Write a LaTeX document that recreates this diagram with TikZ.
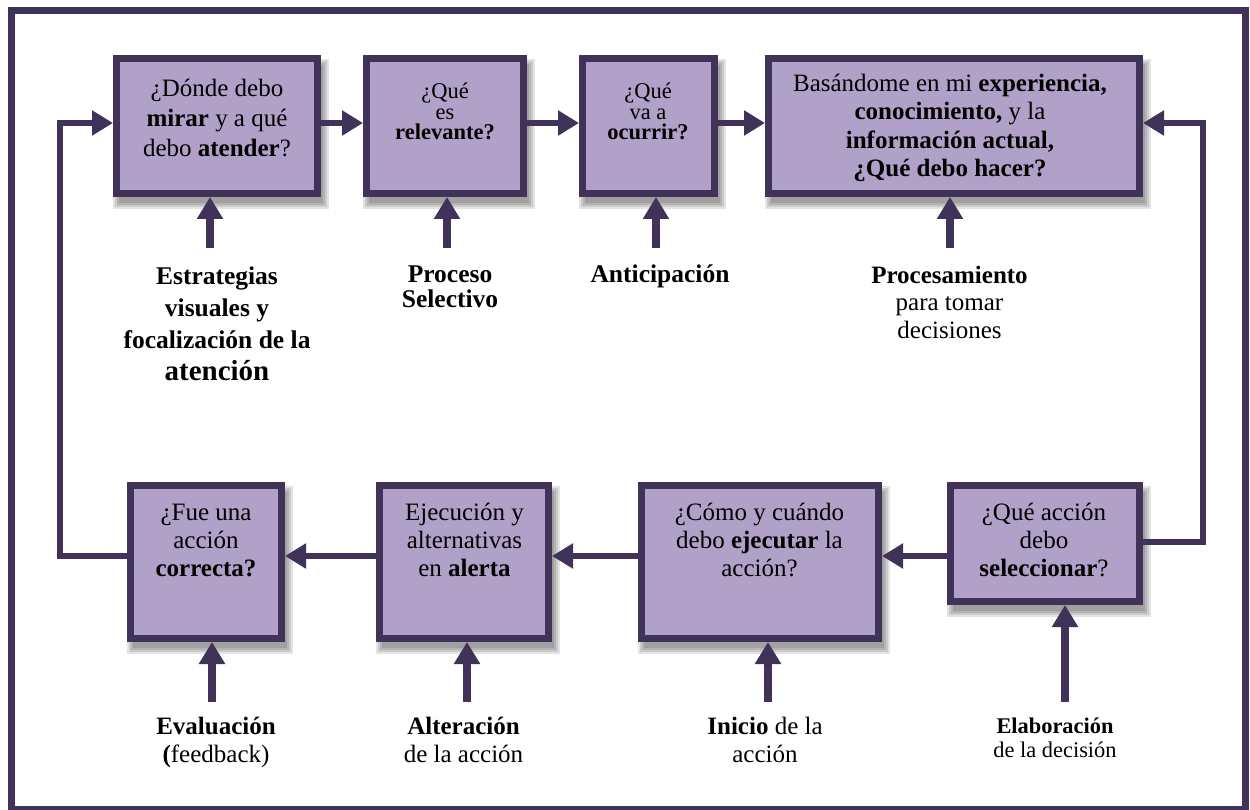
\documentclass[tikz,border=0pt]{standalone}
\usepackage{fontspec}
\setmainfont{Liberation Serif}
\usetikzlibrary{arrows.meta,calc,backgrounds}
\definecolor{edge}{RGB}{64,50,88}
\definecolor{boxfill}{RGB}{177,160,200}
\begin{document}
\begin{tikzpicture}[x=1pt,y=-1pt,
  box/.style={draw=edge, fill=boxfill, line width=7pt, inner sep=0pt},
  txt/.style={align=center, inner sep=0pt, anchor=base, font=\fontsize{25}{30}\selectfont},
  conn/.style={draw=edge, line width=6.5pt, line join=miter, -{Triangle[length=21pt,width=24pt]}},
  upar/.style={draw=edge, line width=8pt, -{Triangle[length=22pt,width=25pt]}},
  shade/.style={fill=black, opacity=0.11}
]
\useasboundingbox (0,0) rectangle (1250,810);

% outer frame
\draw[edge, line width=7pt] (11.5,11) rectangle (1245.5,809);

% top row of boxes
\node[box, minimum width=201pt, minimum height=135pt] (b1) at (217,126) {};
\node[box, minimum width=157pt, minimum height=135pt] (b2) at (445,126) {};
\node[box, minimum width=132pt, minimum height=135pt] (b3) at (648.5,126) {};
\node[box, minimum width=371pt, minimum height=135pt] (b4) at (954,126) {};
% bottom row of boxes
\node[box, minimum width=151pt, minimum height=153pt] (b5) at (206,562) {};
\node[box, minimum width=169pt, minimum height=153pt] (b6) at (464,562) {};
\node[box, minimum width=237pt, minimum height=153pt] (b7) at (760,562) {};
\node[box, minimum width=189pt, minimum height=116pt] (b8) at (1045,543.5) {};

% soft shadows under the boxes
\begin{scope}[on background layer]
  \foreach \n in {b1,b2,b3,b4,b5,b6,b7,b8}
    \foreach \s in {-2,0,2,4}
      \fill[shade] ($(\n.north west)+(4-\s,8-\s)$) rectangle ($(\n.south east)+(4+\s,8+\s)$);
\end{scope}

% box texts (each placed by the baseline of its last line)
\node[txt] (t1) at (217,157) {¿Dónde debo\\\textbf{mirar} y a qué\\debo \textbf{atender}?};
\node[txt, font=\fontsize{22.5}{20.5}\selectfont] (t2) at (445,140) {¿Qué\\es\\\textbf{relevante?}};
\node[txt, font=\fontsize{22.5}{20.5}\selectfont] (t3) at (648,140) {¿Qué\\va a\\\textbf{ocurrir?}};
\node[txt, font=\fontsize{25}{28.5}\selectfont] (t4) at (950,177) {Basándome en mi \textbf{experiencia,}\\\textbf{conocimiento,} y la\\\textbf{información actual,}\\\textbf{¿Qué debo hacer?}};
\node[txt, font=\fontsize{25}{28}\selectfont] (t5) at (206,576) {¿Fue una\\acción\\\textbf{correcta?}};
\node[txt, font=\fontsize{25}{28}\selectfont] (t6) at (464.5,576) {Ejecución y\\alternativas\\en \textbf{alerta}};
\node[txt, font=\fontsize{25}{28}\selectfont] (t7) at (759.5,576) {¿Cómo y cuándo\\debo \textbf{ejecutar} la\\acción?};
\node[txt, font=\fontsize{25}{28}\selectfont] (t8) at (1044,576) {¿Qué acción\\debo\\\textbf{seleccionar}?};

% labels under the boxes
\node[txt, font=\fontsize{25.5}{32}\selectfont\bfseries] (l1) at (217,380) {Estrategias\\visuales y\\focalización de la\\{\fontsize{29}{33}\selectfont atención}};
\node[txt, font=\fontsize{25.5}{25.5}\selectfont\bfseries] (l2) at (450,308) {Proceso\\Selectivo};
\node[txt, font=\fontsize{25.5}{26}\selectfont\bfseries] (l3) at (660,283) {Anticipación};
\node[txt, font=\fontsize{25}{27.5}\selectfont] (l4) at (949.5,338) {\textbf{Procesamiento}\\para tomar\\decisiones};
\node[txt, font=\fontsize{25}{28}\selectfont] (l5) at (216,762) {\textbf{Evaluación}\\\textbf{(}feedback)};
\node[txt, font=\fontsize{25}{28}\selectfont] (l6) at (463.5,762) {\textbf{Alteración}\\de la acción};
\node[txt, font=\fontsize{25}{28}\selectfont] (l7) at (765,762) {\textbf{Inicio} de la\\acción};
\node[txt, font=\fontsize{22.4}{24}\selectfont] (l8) at (1055,757) {\textbf{Elaboración}\\de la decisión};

% rows and turning points of the connectors
\coordinate (rowT) at (0,123);
\coordinate (rowB) at (0,556);
\coordinate (rowR) at (0,542);
\coordinate (lc) at (60,123);
\coordinate (rc) at (1203,123);

% forward flow along the top row
\draw[conn] (b1.east |- rowT) -- (b2.west |- rowT);
\draw[conn] (b2.east |- rowT) -- (b3.west |- rowT);
\draw[conn] (b3.east |- rowT) -- (b4.west |- rowT);
% return from the bottom right box to the top row
\draw[conn] (b8.east |- rowR) -| (rc) -- (b4.east |- rowT);
% bottom row, right to left
\draw[conn] (b8.west |- rowB) -- (b7.east |- rowB);
\draw[conn] (b7.west |- rowB) -- (b6.east |- rowB);
\draw[conn] (b6.west |- rowB) -- (b5.east |- rowB);
% feedback loop back to the start
\draw[conn] (b5.west |- rowB) -| (lc) -- (b1.west |- rowT);

% inputs from below
\coordinate (a1) at (210,248);
\coordinate (a2) at (447,248);
\coordinate (a3) at (656,248);
\coordinate (a4) at (950,248);
\coordinate (a5) at (212,702);
\coordinate (a6) at (467,702);
\coordinate (a7) at (768,702);
\coordinate (a8) at (1065,702);
\draw[upar] (a1) -- (a1 |- b1.south);
\draw[upar] (a2) -- (a2 |- b2.south);
\draw[upar] (a3) -- (a3 |- b3.south);
\draw[upar] (a4) -- (a4 |- b4.south);
\draw[upar] (a5) -- (a5 |- b5.south);
\draw[upar] (a6) -- (a6 |- b6.south);
\draw[upar] (a7) -- (a7 |- b7.south);
\draw[upar] (a8) -- (a8 |- b8.south);
\end{tikzpicture}
\end{document}
